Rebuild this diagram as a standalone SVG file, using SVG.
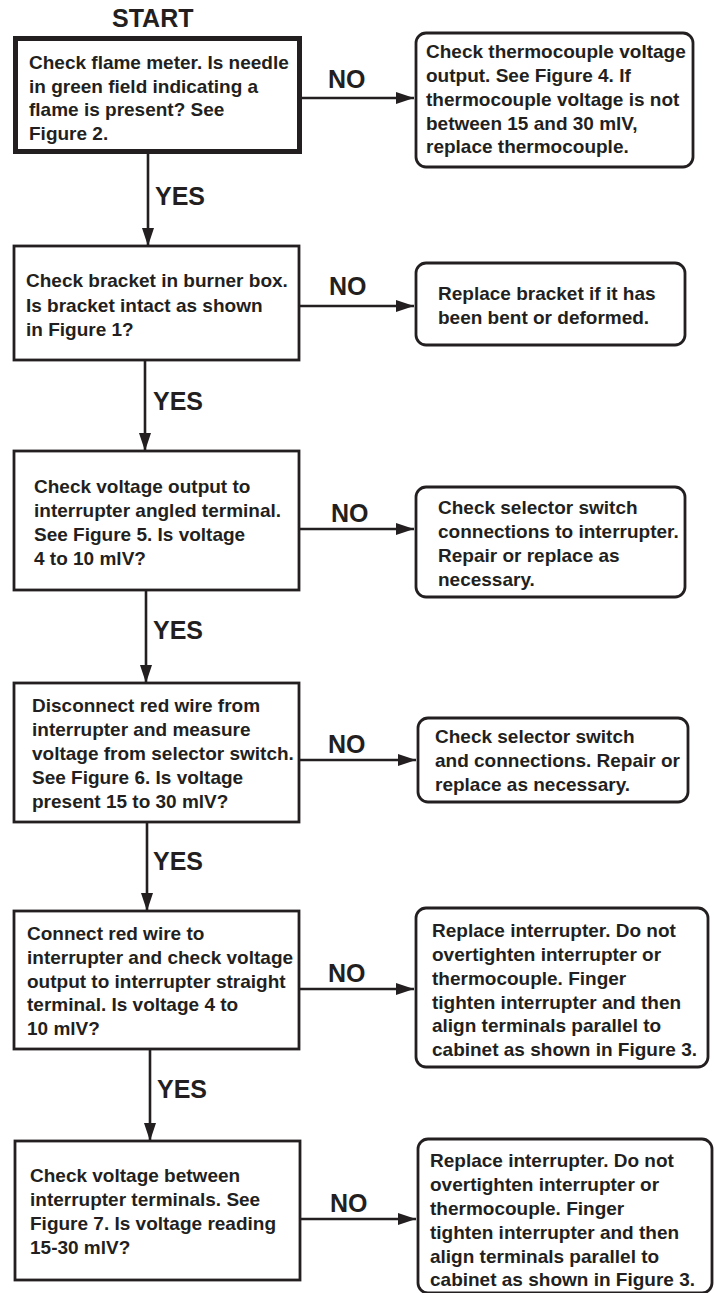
<svg xmlns="http://www.w3.org/2000/svg" width="715" height="1293" viewBox="0 0 715 1293">
<style>
.t{font-family:"Liberation Sans",Arial,Helvetica,sans-serif;font-weight:bold;font-size:19px;fill:#231f20}
.lbl{font-family:"Liberation Sans",Arial,Helvetica,sans-serif;font-weight:bold;font-size:25px;fill:#231f20}
.box{fill:#fff;stroke:#231f20;stroke-width:2.8}
.rbox{fill:#fff;stroke:#231f20;stroke-width:2.8}
.thick{fill:#fff;stroke:#231f20;stroke-width:5}
.con{fill:none;stroke:#231f20;stroke-width:2.6}
</style>
<defs>
<marker id="ah" viewBox="0 0 18 12" refX="18" refY="6" markerWidth="18" markerHeight="12" markerUnits="userSpaceOnUse" orient="auto">
<path d="M0,0 L18,6 L0,12 Z" fill="#231f20"/>
</marker>
</defs>
<rect width="715" height="1293" fill="#fff"/>

<g id="connectors">
<line class="con" x1="302" y1="98" x2="414" y2="98" marker-end="url(#ah)"/>
<line class="con" x1="148" y1="154" x2="148" y2="246" marker-end="url(#ah)"/>
<line class="con" x1="299" y1="306" x2="414" y2="306" marker-end="url(#ah)"/>
<line class="con" x1="145" y1="360" x2="145" y2="451" marker-end="url(#ah)"/>
<line class="con" x1="299" y1="529" x2="414" y2="529" marker-end="url(#ah)"/>
<line class="con" x1="146" y1="590" x2="146" y2="683" marker-end="url(#ah)"/>
<line class="con" x1="299" y1="760" x2="416" y2="760" marker-end="url(#ah)"/>
<line class="con" x1="147" y1="822" x2="147" y2="911" marker-end="url(#ah)"/>
<line class="con" x1="299" y1="989" x2="414" y2="989" marker-end="url(#ah)"/>
<line class="con" x1="150" y1="1049" x2="150" y2="1141" marker-end="url(#ah)"/>
<line class="con" x1="300" y1="1219" x2="416" y2="1219" marker-end="url(#ah)"/>
<text class="lbl" x="328" y="88">NO</text>
<text class="lbl" x="155" y="205">YES</text>
<text class="lbl" x="329" y="295">NO</text>
<text class="lbl" x="153" y="410">YES</text>
<text class="lbl" x="331" y="522">NO</text>
<text class="lbl" x="153" y="639">YES</text>
<text class="lbl" x="328" y="753">NO</text>
<text class="lbl" x="153" y="870">YES</text>
<text class="lbl" x="328" y="982">NO</text>
<text class="lbl" x="157" y="1098">YES</text>
<text class="lbl" x="330" y="1212">NO</text>
</g>

<g id="start">
<text class="lbl" x="112" y="27">START</text>
<rect class="thick" x="15.5" y="38.5" width="284" height="113"/>
<text class="t" x="29" y="69">Check flame meter. Is needle</text>
<text class="t" x="29" y="92.5">in green field indicating a</text>
<text class="t" x="29" y="116">flame is present? See</text>
<text class="t" x="29" y="139.5">Figure 2.</text>
</g>

<g id="thermocouple">
<rect class="rbox" x="416" y="33" width="277" height="134" rx="10"/>
<text class="t" x="426" y="58">Check thermocouple voltage</text>
<text class="t" x="426" y="82">output. See Figure 4. If</text>
<text class="t" x="426" y="106">thermocouple voltage is not</text>
<text class="t" x="426" y="129.5">between 15 and 30 mlV,</text>
<text class="t" x="426" y="153">replace thermocouple.</text>
</g>

<g id="bracket">
<rect class="box" x="14" y="246" width="285" height="114"/>
<text class="t" x="26" y="287">Check bracket in burner box.</text>
<text class="t" x="26" y="311.5">Is bracket intact as shown</text>
<text class="t" x="26" y="336">in Figure 1?</text>
</g>

<g id="replace-bracket">
<rect class="rbox" x="416" y="263" width="269" height="82" rx="10"/>
<text class="t" x="438" y="300">Replace bracket if it has</text>
<text class="t" x="438" y="323.5">been bent or deformed.</text>
</g>

<g id="angled">
<rect class="box" x="14" y="451" width="285" height="139"/>
<text class="t" x="34" y="493">Check voltage output to</text>
<text class="t" x="34" y="517">interrupter angled terminal.</text>
<text class="t" x="34" y="541">See Figure 5. Is voltage</text>
<text class="t" x="34" y="565">4 to 10 mlV?</text>
</g>

<g id="selector1">
<rect class="rbox" x="416" y="487" width="269" height="110" rx="10"/>
<text class="t" x="438" y="513.5">Check selector switch</text>
<text class="t" x="438" y="538">connections to interrupter.</text>
<text class="t" x="438" y="562">Repair or replace as</text>
<text class="t" x="438" y="586">necessary.</text>
</g>

<g id="disconnect">
<rect class="box" x="14" y="683" width="285" height="139"/>
<text class="t" x="32" y="712">Disconnect red wire from</text>
<text class="t" x="32" y="736">interrupter and measure</text>
<text class="t" x="32" y="760">voltage from selector switch.</text>
<text class="t" x="32" y="784">See Figure 6. Is voltage</text>
<text class="t" x="32" y="807.5">present 15 to 30 mlV?</text>
</g>

<g id="selector2">
<rect class="rbox" x="418" y="718" width="270" height="84" rx="10"/>
<text class="t" x="435" y="743">Check selector switch</text>
<text class="t" x="435" y="767">and connections. Repair or</text>
<text class="t" x="435" y="791">replace as necessary.</text>
</g>

<g id="connect">
<rect class="box" x="14" y="911" width="285" height="138"/>
<text class="t" x="27" y="940">Connect red wire to</text>
<text class="t" x="27" y="964">interrupter and check voltage</text>
<text class="t" x="27" y="987.5">output to interrupter straight</text>
<text class="t" x="27" y="1011">terminal. Is voltage 4 to</text>
<text class="t" x="27" y="1034.5">10 mlV?</text>
</g>

<g id="replace1">
<rect class="rbox" x="416" y="908" width="292" height="159" rx="10"/>
<text class="t" x="432" y="937">Replace interrupter. Do not</text>
<text class="t" x="432" y="961">overtighten interrupter or</text>
<text class="t" x="432" y="984.5">thermocouple. Finger</text>
<text class="t" x="432" y="1008.5">tighten interrupter and then</text>
<text class="t" x="432" y="1032">align terminals parallel to</text>
<text class="t" x="432" y="1056">cabinet as shown in Figure 3.</text>
</g>

<g id="between">
<rect class="box" x="15" y="1141" width="285" height="139"/>
<text class="t" x="30" y="1182">Check voltage between</text>
<text class="t" x="30" y="1206">interrupter terminals. See</text>
<text class="t" x="30" y="1230">Figure 7. Is voltage reading</text>
<text class="t" x="30" y="1253.5">15-30 mlV?</text>
</g>

<g id="replace2">
<rect class="rbox" x="418" y="1139" width="294" height="154" rx="10"/>
<text class="t" x="430" y="1167">Replace interrupter. Do not</text>
<text class="t" x="430" y="1191">overtighten interrupter or</text>
<text class="t" x="430" y="1215">thermocouple. Finger</text>
<text class="t" x="430" y="1239">tighten interrupter and then</text>
<text class="t" x="430" y="1263">align terminals parallel to</text>
<text class="t" x="430" y="1286">cabinet as shown in Figure 3.</text>
</g>
</svg>
